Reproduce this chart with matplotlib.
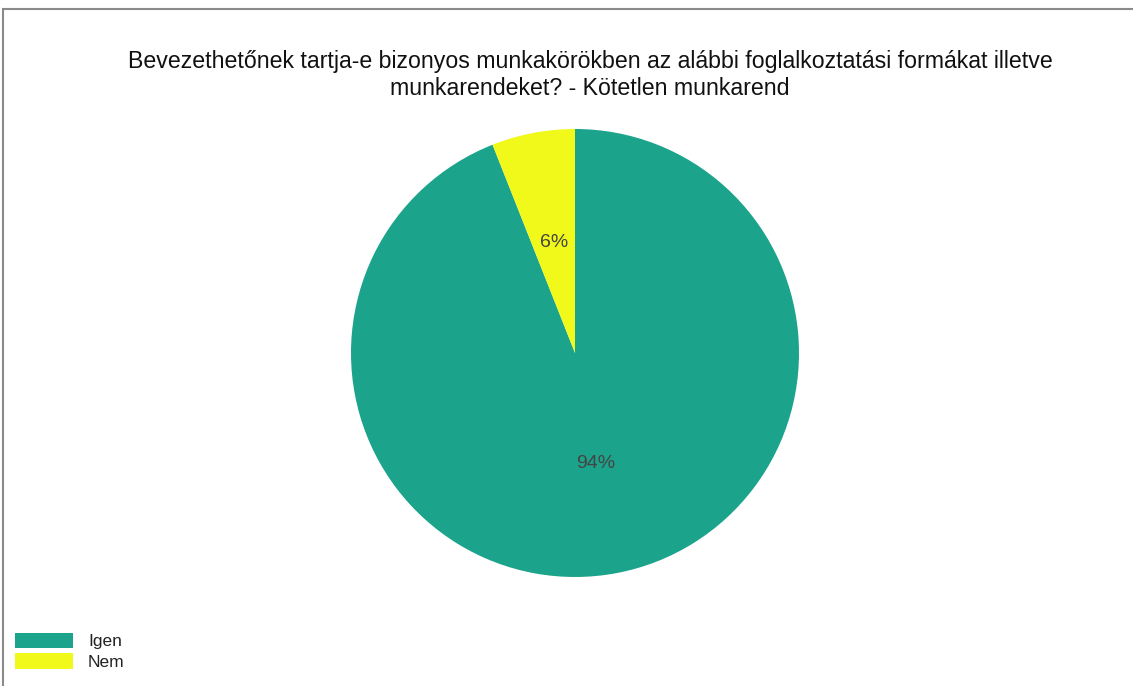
import matplotlib
matplotlib.use("Agg")
import matplotlib.pyplot as plt
from matplotlib.patches import Rectangle, Patch

labels = ["Igen", "Nem"]
values = [94, 6]
colors = ["#1ba38b", "#f0f91a"]
title = "Bevezethetőnek tartja-e bizonyos munkakörökben az alábbi foglalkoztatási formákat illetve\nmunkarendeket? - Kötetlen munkarend"

plt.rcParams['font.family'] = ['Liberation Sans', 'DejaVu Sans']

W, H = 1133, 686
fig = plt.figure(figsize=(W/100, H/100), dpi=100)

# frame
fig.add_artist(Rectangle((3/W, -0.05), 1.2, 1 - 9/H + 0.05, transform=fig.transFigure,
                         fill=False, edgecolor="#8a8a8a", linewidth=1.5))

cx, cy, r = 575, 353, 224
ax = fig.add_axes([(cx - r)/W, 1 - (cy + r)/H, 2*r/W, 2*r/H])
wedges, texts, autotexts = ax.pie(values, colors=colors, startangle=90, counterclock=False,
                                  autopct='%1.0f%%', pctdistance=0.5, radius=1,
                                  wedgeprops=dict(linewidth=0),
                                  textprops=dict(color="#444444", fontsize=14))
ax.set_xlim(-1, 1)
ax.set_ylim(-1, 1)
ax.set_aspect('equal')
ax.axis('off')

fig.text(590/W, 1 - 75/H, title, ha='center', va='center', fontsize=16.7,
         color="#111111", linespacing=1.2)

leg = fig.legend(handles=[Patch(facecolor=c, edgecolor='none') for c in colors], labels=labels,
                 loc='lower left', bbox_to_anchor=(15/W, 16/H), frameon=False,
                 fontsize=12.5, handlelength=3.35, handleheight=1.0, labelspacing=0.22,
                 handletextpad=0.85, borderaxespad=0, borderpad=0)
for t in leg.get_texts():
    t.set_color("#222222")

fig.savefig("out.png", dpi=100)
